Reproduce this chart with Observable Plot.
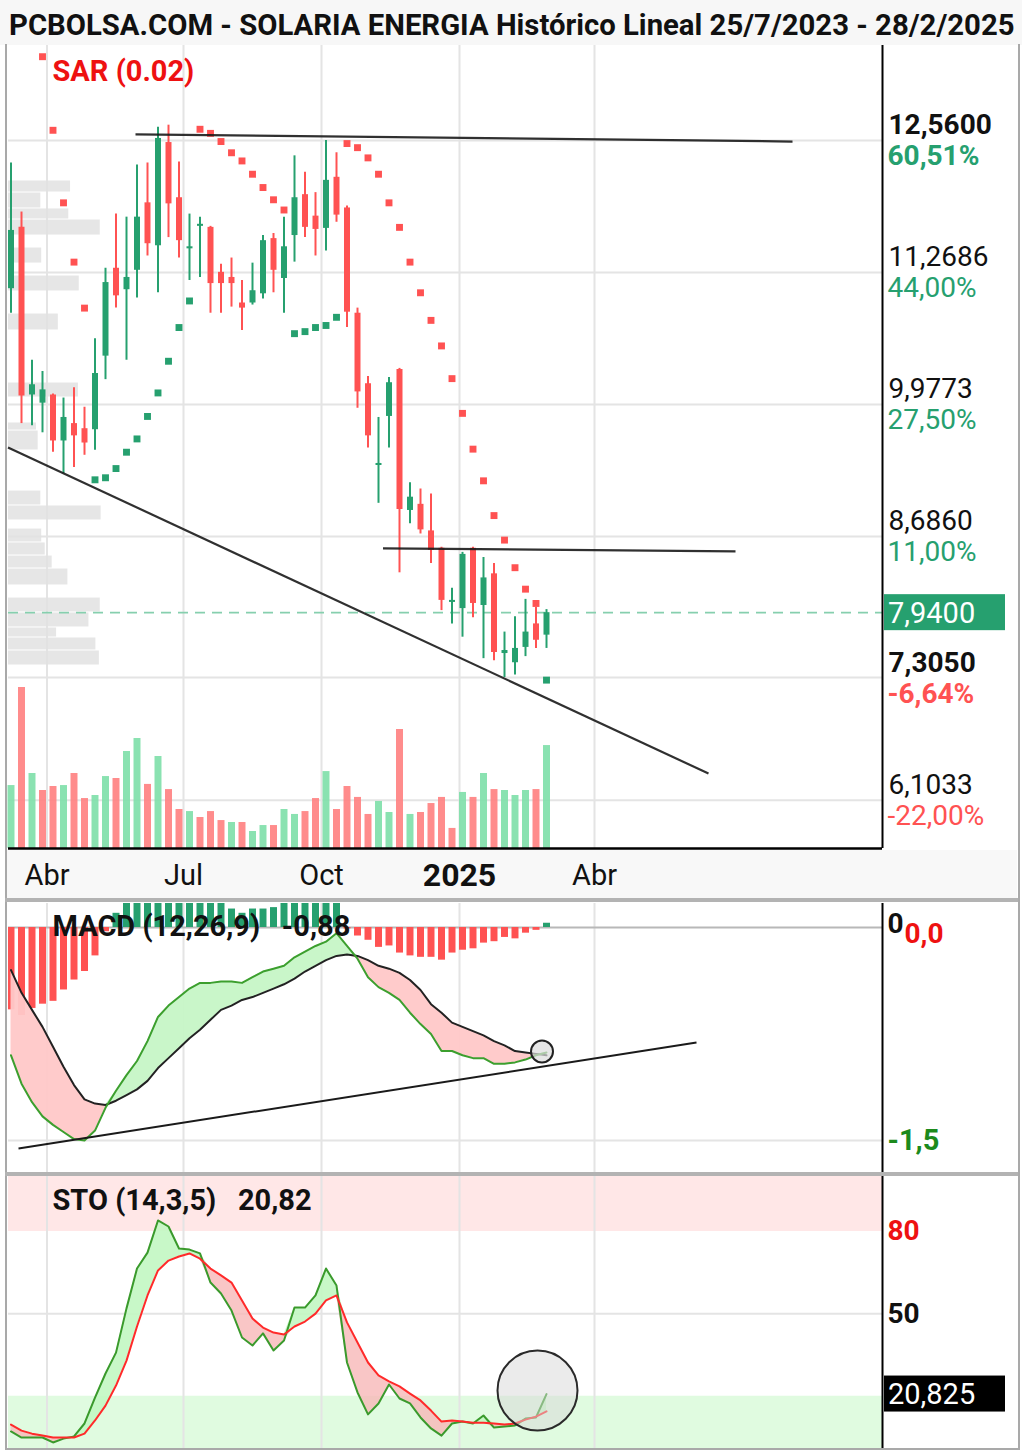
<!DOCTYPE html>
<html><head><meta charset="utf-8">
<script src="https://cdn.jsdelivr.net/npm/d3@7"></script>
<script src="https://cdn.jsdelivr.net/npm/@observablehq/plot@0.6"></script>
<style>
body{margin:0;background:#fff;}
#root{position:relative;width:1022px;height:1454px;overflow:hidden;background:#fff;font-family:Roboto,"Noto Sans",sans-serif;}
.layer{position:absolute;left:0;width:1022px;}
.box{position:absolute;}
</style></head>
<body><div id="root"></div>
<script>
// ---------------- DATA ----------------
const dates = ["2024-03-08","2024-03-15","2024-03-22","2024-03-29","2024-04-05","2024-04-12","2024-04-19","2024-04-26",
"2024-05-03","2024-05-10","2024-05-17","2024-05-24","2024-05-31","2024-06-07","2024-06-14","2024-06-21","2024-06-28",
"2024-07-05","2024-07-12","2024-07-19","2024-07-26","2024-08-02","2024-08-09","2024-08-16","2024-08-23","2024-08-30",
"2024-09-06","2024-09-13","2024-09-20","2024-09-27","2024-10-04","2024-10-11","2024-10-18","2024-10-25","2024-11-01",
"2024-11-08","2024-11-15","2024-11-22","2024-11-29","2024-12-06","2024-12-13","2024-12-20","2024-12-27","2025-01-03",
"2025-01-10","2025-01-17","2025-01-24","2025-01-31","2025-02-07","2025-02-14","2025-02-21","2025-02-28"];
const open  = [11.11,11.71,10.07,9.99,10.07,9.62,9.79,9.74,9.73,10.45,11.31,11.10,11.29,11.95,11.53,12.54,12.00,11.50,11.72,11.71,11.27,11.22,10.97,10.97,11.06,11.60,11.21,11.63,12.03,11.82,11.70,12.20,11.90,10.87,10.18,9.38,9.86,10.32,8.94,9.00,8.74,8.57,8.04,7.98,8.57,8.01,8.32,7.54,7.45,7.60,7.83,7.72];
const high  = [12.34,11.86,10.41,10.30,10.08,10.04,10.14,9.95,10.62,11.31,11.84,11.81,12.32,12.34,12.69,12.71,12.35,11.84,11.81,11.72,11.35,11.41,11.19,11.36,11.63,11.65,11.81,12.41,12.25,12.05,12.56,12.44,11.92,10.92,10.25,9.85,10.24,10.33,9.21,9.15,9.10,8.58,8.18,8.53,8.58,8.48,8.42,7.75,7.90,8.07,7.99,7.97];
const low   = [10.87,9.79,9.77,9.70,9.51,9.30,9.36,9.48,9.53,10.22,10.92,10.41,11.02,11.43,11.07,11.61,11.41,11.19,11.22,10.87,10.87,10.93,10.70,10.95,11.01,11.07,10.87,11.37,11.61,11.43,11.48,11.76,10.73,9.94,9.55,9.01,9.55,8.33,8.81,8.71,8.42,7.96,7.83,7.70,7.89,7.49,7.47,7.305,7.33,7.51,7.59,7.59];
const close = [11.68,10.06,10.17,10.12,9.62,9.85,9.67,9.60,10.28,11.17,11.04,11.22,11.81,11.55,12.58,11.94,11.58,11.52,11.74,11.16,11.16,11.16,10.92,11.09,11.58,11.29,11.52,12.00,11.71,11.69,12.17,11.83,10.88,10.10,9.67,9.40,10.19,8.95,9.07,8.75,8.55,8.06,8.06,8.51,8.03,8.28,7.55,7.57,7.59,7.75,7.67,7.94];
const sar   = [14.60,14.30,13.95,13.38,12.66,11.95,11.37,10.92,9.24,9.26,9.35,9.51,9.64,9.86,10.09,10.40,10.73,10.99,12.67,12.63,12.55,12.44,12.36,12.23,12.10,11.98,11.88,10.67,10.69,10.73,10.75,10.83,12.53,12.49,12.39,12.23,11.95,11.71,11.37,11.07,10.80,10.55,10.23,9.89,9.54,9.23,8.89,8.65,8.38,8.17,8.03,7.28];
const volume = [3.92,10.02,4.67,3.61,3.86,3.92,4.67,3.11,3.30,4.48,4.36,6.04,6.85,3.99,5.73,3.67,2.43,2.30,1.93,2.30,1.74,1.62,1.62,1.06,1.43,1.43,2.43,2.12,2.30,3.11,4.79,2.43,3.86,3.18,2.12,2.93,2.24,7.41,2.12,2.24,2.80,3.18,1.25,3.49,3.18,4.67,3.67,3.61,3.30,3.61,3.67,6.41];
const volumeUp = [1,0,1,0,0,1,0,0,1,1,0,1,1,0,1,0,0,1,0,0,0,1,0,1,1,0,1,1,0,0,1,0,0,0,0,1,1,0,1,0,0,0,0,1,0,1,0,1,1,1,0,1];
const profileLow  = [12.051,11.895,11.787,11.630,11.356,11.083,10.701,10.045,9.722,9.527,8.989,8.842,8.627,8.499,8.372,8.206,7.942,7.795,7.697,7.570,7.423];
const profileHigh = [12.169,12.051,11.895,11.787,11.513,11.239,10.867,10.192,9.801,9.722,9.135,8.989,8.763,8.627,8.499,8.372,8.088,7.942,7.795,7.697,7.570];
const profileVol  = [71,37,69,105,38,81,57,80,32,34,37,106,38,42,50,68,105,92,55,100,104];
const macd   = [-0.90,-1.10,-1.23,-1.33,-1.39,-1.44,-1.49,-1.50,-1.43,-1.27,-1.15,-1.04,-0.94,-0.80,-0.63,-0.55,-0.49,-0.43,-0.39,-0.39,-0.38,-0.38,-0.39,-0.35,-0.31,-0.29,-0.27,-0.21,-0.17,-0.13,-0.10,-0.04,-0.13,-0.22,-0.35,-0.42,-0.46,-0.51,-0.60,-0.68,-0.75,-0.87,-0.87,-0.90,-0.92,-0.92,-0.96,-0.96,-0.95,-0.93,-0.90,-0.88];
const signal = [-0.30,-0.46,-0.58,-0.70,-0.84,-0.98,-1.11,-1.21,-1.24,-1.25,-1.22,-1.18,-1.14,-1.08,-0.99,-0.92,-0.85,-0.78,-0.72,-0.65,-0.58,-0.55,-0.51,-0.49,-0.46,-0.43,-0.40,-0.36,-0.31,-0.27,-0.23,-0.20,-0.19,-0.20,-0.23,-0.27,-0.29,-0.32,-0.37,-0.44,-0.54,-0.60,-0.67,-0.70,-0.73,-0.76,-0.80,-0.83,-0.87,-0.88,-0.89,-0.90];
const hist   = [-0.58,-0.62,-0.57,-0.54,-0.52,-0.44,-0.37,-0.31,-0.20,-0.03,0.10,0.20,0.25,0.30,0.36,0.37,0.36,0.35,0.33,0.27,0.20,0.13,0.10,0.13,0.13,0.14,0.18,0.20,0.20,0.20,0.20,0.18,-0.01,-0.06,-0.09,-0.14,-0.13,-0.18,-0.20,-0.21,-0.21,-0.23,-0.18,-0.16,-0.15,-0.11,-0.10,-0.07,-0.08,-0.04,-0.02,0.03];
const stoK = [7.2,5.0,5.0,5.0,3.2,4.6,5.4,10.1,19.5,28.3,35.9,52,66.5,72.3,84,81.8,73.8,73.4,72,61.4,57.4,51.2,41.4,38.5,42.9,36.7,40.3,52.3,52.3,56.7,66.5,60.3,32.3,21.4,13.4,17.4,24.3,19.2,17.4,12.3,8.3,5.7,10.1,10.8,10.1,13.0,8.6,9.0,9.4,11.9,12.3,20.82];
const stoD = [9.7,7.5,6.4,5.7,5.0,5.0,5.0,6.4,11.2,16.6,23.9,33.0,45.4,56.7,65.8,69.4,70.9,72,70.1,66.5,64,61.4,54.9,48.3,45,43.2,42.5,45.4,47.2,50.1,54.9,56.7,46.9,39.6,32.3,27.6,25.4,23.6,21.0,18.5,14.8,10.8,11.2,10.8,10.4,10.4,10.1,9.7,10.1,11.5,12.6,14.5];

const priceTicks  = [12.56, 11.2686, 9.9773, 8.686, 7.305, 6.1033];
const priceLabels = ["12,5600","11,2686","9,9773","8,6860","7,3050","6,1033"];
const pctLabels   = ["60,51%","44,00%","27,50%","11,00%","-6,64%","-22,00%"];
const boldTick    = [1,0,0,0,1,0];
const quarterDates  = ["2024-04-01","2024-07-01","2024-10-01","2025-01-01","2025-04-01"];
const quarterLabels = ["Abr","Jul","Oct","2025","Abr"];
const quarterIsYear = [0,0,0,1,0];
const priceLines = [
  {x1:"2024-05-30", y1:12.62, x2:"2025-08-11", y2:12.55},
  {x1:"2024-11-11", y1:8.57,  x2:"2025-07-04", y2:8.54},
  {x1:"2024-03-06", y1:9.556, x2:"2025-06-16", y2:6.366}
];
const macdLine = [{x1:"2024-03-13", y1:-1.556, x2:"2025-06-08", y2:-0.81}];
const macdCircle = [{x:"2025-02-25", y:-0.873}];
const stoCircle  = [{x:"2025-02-22", y:22.1}];

// ---------------- SETUP ----------------
const root = document.getElementById("root");
const W = 1022, ML = 8, MR = 140;
const xDomain = [new Date("2024-03-06T08:00:00Z"), new Date("2025-10-10T00:00:00Z")];
const priceDomain = [5.6324, 13.4896];
const macdDomain = [-1.7324, 0.169];
const stoDomain = [1, 100];
const GREEN = "#26a06f", RED = "#ff5252", VGREEN = "#80dfaa", VRED = "#ff8282", GRID = "#e4e4e4";
const FONT = "Roboto, 'Noto Sans', sans-serif";
const LBL = 29, RLBL = 28;
const idx = d3.range(dates.length);
const D = dates.map(s => new Date(s));
const QD = quarterDates.map(s => new Date(s));
const cColor = i => close[i] >= open[i] ? GREEN : RED;

function base(h, ydom, xopt) {
  return {
    width: W, height: h, marginLeft: ML, marginRight: MR, marginTop: 0, marginBottom: 0,
    x: xopt || {type: "utc", domain: xDomain, axis: null},
    y: {domain: ydom, axis: null},
    color: {type: "identity"},
    style: {background: "transparent", fontFamily: FONT, overflow: "visible"}
  };
}
function addLayer(top, svg) {
  const div = document.createElement("div");
  div.className = "layer";
  div.style.top = top + "px";
  div.appendChild(svg);
  root.appendChild(div);
}
function addDiv(css, html) {
  const d = document.createElement("div");
  d.className = "box";
  d.style.cssText = css;
  if (html) d.innerHTML = html;
  root.appendChild(d);
  return d;
}
function valueBox(value, label, fill) {
  return (index, scales, values, dims) => {
    const yy = scales.y(value);
    const x0 = dims.width - dims.marginRight + 2;
    const g = d3.create("svg:g");
    g.append("rect").attr("x", x0).attr("y", yy - 18).attr("width", 121).attr("height", 36).attr("fill", fill);
    g.append("text").attr("x", x0 + 4).attr("y", yy).attr("dy", "0.36em").attr("fill", "white")
      .attr("text-anchor", "start").attr("font-size", LBL).attr("font-family", FONT).text(label);
    return g.node();
  };
}
const titleText = (s, dy) => Plot.text([s], {frameAnchor: "top-left", dx: 44, dy, lineAnchor: "middle", textAnchor: "start", fontSize: LBL, fontWeight: "bold", fill: "#111"});

// Title band
addDiv("left:0;top:0;width:1022px;height:45px;background:#f7f7f7;");
addDiv("left:9px;top:8px;width:1010px;height:36px;white-space:nowrap;font-weight:700;font-size:29.3px;line-height:34px;color:#111;",
  "PCBOLSA.COM - SOLARIA ENERGIA Histórico Lineal 25/7/2023 - 28/2/2025");
// axis strip background
addDiv("left:7px;top:850px;width:1010px;height:48px;background:#f8f8f8;");

// ---------------- PRICE PANE ----------------
const PT = 45, PH = 803;
addLayer(PT, Plot.plot({...base(PH, priceDomain), marks: [
  Plot.ruleX(QD, {stroke: GRID, strokeWidth: 2}),
  Plot.ruleY(priceTicks, {stroke: GRID, strokeWidth: 2})
]}));
addLayer(PT, Plot.plot({...base(PH, priceDomain, {type: "linear", domain: [0, 1000], axis: null}), marks: [
  Plot.rectX(d3.range(profileVol.length), {x: i => profileVol[i], y1: i => profileLow[i], y2: i => profileHigh[i],
    fill: "#e2e2e2", fillOpacity: 0.85, insetTop: 0.5, insetBottom: 0.5})
]}));
addLayer(PT, Plot.plot({...base(PH, [0, 50]), marks: [
  Plot.ruleX(idx, {x: i => D[i], y1: 0, y2: i => volume[i], stroke: i => volumeUp[i] ? VGREEN : VRED, strokeWidth: 7, strokeOpacity: 0.92})
]}));
const posTicks = idx.slice(0, priceTicks.length);
const pctColor = i => pctLabels[i].startsWith("-") ? RED : GREEN;
addLayer(PT, Plot.plot({...base(PH, priceDomain), marks: [
  Plot.ruleY([close[close.length - 1]], {stroke: "#86cfae", strokeWidth: 1.6, strokeDasharray: "10,7"}),
  Plot.ruleX(idx, {x: i => D[i], y1: i => low[i], y2: i => high[i], stroke: cColor, strokeWidth: 2}),
  Plot.ruleX(idx, {x: i => D[i], y1: i => open[i], y2: i => close[i], stroke: cColor, strokeWidth: 6}),
  Plot.dot(idx, {x: i => D[i], y: i => sar[i], symbol: "square", r: 3.9, fill: i => sar[i] > close[i] ? RED : GREEN, clip: true}),
  Plot.link(priceLines, {x1: d => new Date(d.x1), y1: "y1", x2: d => new Date(d.x2), y2: "y2", stroke: "#1a1a1a", strokeWidth: 2.2, strokeOpacity: 0.9}),
  Plot.ruleX([xDomain[1]], {stroke: "#000", strokeWidth: 2}),
  Plot.ruleY([priceDomain[0]], {stroke: "#000", strokeWidth: 2.5}),
  Plot.text(["SAR (0.02)"], {frameAnchor: "top-left", dx: 44, dy: 26, lineAnchor: "middle", textAnchor: "start", fill: "#ee1111", fontWeight: "bold", fontSize: LBL}),
  Plot.text(posTicks.filter(i => boldTick[i]), {y: i => priceTicks[i], text: i => priceLabels[i], frameAnchor: "right", dx: 6, dy: -15, textAnchor: "start", fontSize: RLBL, fontWeight: "bold", fill: "#111"}),
  Plot.text(posTicks.filter(i => !boldTick[i]), {y: i => priceTicks[i], text: i => priceLabels[i], frameAnchor: "right", dx: 6, dy: -15, textAnchor: "start", fontSize: RLBL, fill: "#111"}),
  Plot.text(posTicks.filter(i => boldTick[i]), {y: i => priceTicks[i], text: i => pctLabels[i], frameAnchor: "right", dx: 5, dy: 16, textAnchor: "start", fontSize: RLBL, fontWeight: "bold", fill: pctColor}),
  Plot.text(posTicks.filter(i => !boldTick[i]), {y: i => priceTicks[i], text: i => pctLabels[i], frameAnchor: "right", dx: 5, dy: 16, textAnchor: "start", fontSize: RLBL, fill: pctColor}),
  valueBox(close[close.length - 1], "7,9400", GREEN)
]}));

// ---------------- X AXIS STRIP ----------------
const qIdx = d3.range(QD.length);
addLayer(850, Plot.plot({...base(50, [0, 1]), marks: [
  Plot.text(qIdx.filter(i => !quarterIsYear[i]), {x: i => QD[i], text: i => quarterLabels[i], frameAnchor: "middle", fontSize: 29, fill: "#111"}),
  Plot.text(qIdx.filter(i => quarterIsYear[i]), {x: i => QD[i], text: i => quarterLabels[i], frameAnchor: "middle", fontSize: 32, fontWeight: "bold", fill: "#111"})
]}));

// ---------------- MACD PANE ----------------
addLayer(903, Plot.plot({...base(270, macdDomain), marks: [
  Plot.ruleX(QD, {stroke: GRID, strokeWidth: 2}),
  Plot.ruleY([-1.5], {stroke: GRID, strokeWidth: 2}),
  Plot.ruleY([0], {stroke: "#b8b8b8", strokeWidth: 2}),
  Plot.ruleX(idx, {x: i => D[i], y1: 0, y2: i => hist[i], stroke: i => hist[i] >= 0 ? GREEN : RED, strokeWidth: 7, clip: true}),
  Plot.areaY(idx, {x: i => D[i], y1: i => signal[i], y2: i => Math.max(macd[i], signal[i]), fill: "#c6f5c6", fillOpacity: 0.95}),
  Plot.areaY(idx, {x: i => D[i], y1: i => signal[i], y2: i => Math.min(macd[i], signal[i]), fill: "#ffc8c8", fillOpacity: 0.95}),
  Plot.line(idx, {x: i => D[i], y: i => signal[i], stroke: "#222", strokeWidth: 2}),
  Plot.line(idx, {x: i => D[i], y: i => macd[i], stroke: "#3c9f2e", strokeWidth: 2}),
  Plot.link(macdLine, {x1: d => new Date(d.x1), y1: "y1", x2: d => new Date(d.x2), y2: "y2", stroke: "#1a1a1a", strokeWidth: 2}),
  Plot.dot(macdCircle, {x: d => new Date(d.x), y: "y", r: 11, fill: "#dddddd", fillOpacity: 0.7, stroke: "#222", strokeWidth: 2}),
  titleText("MACD (12,26,9)\u00a0\u00a0\u00a0-0,88", 23),
  Plot.ruleX([xDomain[1]], {stroke: "#000", strokeWidth: 2}),
  Plot.text(["0"], {y: 0, frameAnchor: "right", dx: 5, dy: -3, textAnchor: "start", fontSize: 28, fontWeight: "bold", fill: "#111"}),
  Plot.text(["0,0"], {y: 0, frameAnchor: "right", dx: 22, dy: 7, textAnchor: "start", fontSize: 28, fontWeight: "bold", fill: "#ee1111"}),
  Plot.text(["-1,5"], {y: -1.5, frameAnchor: "right", dx: 5, textAnchor: "start", fontSize: LBL, fontWeight: "bold", fill: "#1c8a1c"})
]}));

// ---------------- STOCHASTIC PANE ----------------
addLayer(1176, Plot.plot({...base(272, stoDomain), marks: [
  Plot.areaY(xDomain, {x: d => d, y1: 80, y2: 100, fill: "#ffe7e7"}),
  Plot.areaY(xDomain, {x: d => d, y1: 1, y2: 20, fill: "#e0fbe0"}),
  Plot.ruleX(QD, {stroke: GRID, strokeWidth: 2}),
  Plot.ruleY([50], {stroke: GRID, strokeWidth: 2}),
  Plot.areaY(idx, {x: i => D[i], y1: i => stoD[i], y2: i => Math.max(stoK[i], stoD[i]), fill: "#c2f7c2", fillOpacity: 0.9}),
  Plot.areaY(idx, {x: i => D[i], y1: i => stoD[i], y2: i => Math.min(stoK[i], stoD[i]), fill: "#f7b8b8", fillOpacity: 0.8}),
  Plot.line(idx, {x: i => D[i], y: i => stoK[i], stroke: "#3a9a2c", strokeWidth: 2}),
  Plot.line(idx, {x: i => D[i], y: i => stoD[i], stroke: "#ff2a2a", strokeWidth: 2}),
  Plot.dot(stoCircle, {x: d => new Date(d.x), y: "y", r: 40, fill: "#d8d8d8", fillOpacity: 0.5, stroke: "#2a2a2a", strokeWidth: 2}),
  titleText("STO (14,3,5)\u00a0\u00a0\u00a020,82", 24),
  Plot.ruleX([xDomain[1]], {stroke: "#000", strokeWidth: 2}),
  Plot.text(["80"], {y: 80, frameAnchor: "right", dx: 5, textAnchor: "start", fontSize: 28, fontWeight: "bold", fill: "#ee1111"}),
  Plot.text(["50"], {y: 50, frameAnchor: "right", dx: 5, textAnchor: "start", fontSize: 28, fontWeight: "bold", fill: "#111"}),
  valueBox(stoK[stoK.length - 1], "20,825", "#000")
]}));

// separators & border
addDiv("left:5px;top:44px;width:1011px;height:1404px;border:2px solid #a9a9a9;border-top:none;");
addDiv("left:5px;top:898px;width:1013px;height:4px;background:#b3b3b3;");
addDiv("left:5px;top:1172px;width:1013px;height:4px;background:#b3b3b3;");
</script>
</body></html>
